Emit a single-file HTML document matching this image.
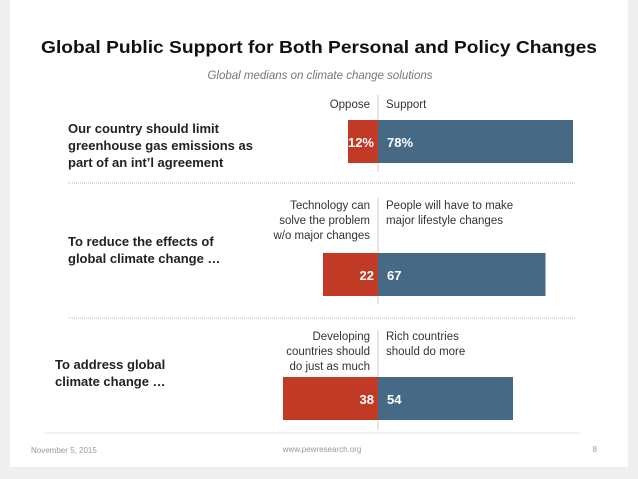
<!DOCTYPE html>
<html><head><meta charset="utf-8"><style>
body{margin:0;width:638px;height:479px;background:#efefef;overflow:hidden;font-family:"Liberation Sans",sans-serif}
#slide{position:absolute;left:10px;top:0;width:618px;height:467px;background:#fff}
</style></head><body>
<div id="slide"></div>
<svg id="chart" width="638" height="479" style="position:absolute;left:0;top:0">
<text x="319" y="53" text-anchor="middle" font-size="17.5" font-weight="bold" fill="#111" textLength="556" lengthAdjust="spacingAndGlyphs">Global Public Support for Both Personal and Policy Changes</text>
<text x="320" y="79" text-anchor="middle" font-size="11.5" font-style="italic" fill="#777">Global medians on climate change solutions</text>
<g font-size="13" font-weight="bold" fill="#222">
<text x="68" y="133">Our country should limit</text>
<text x="68" y="150">greenhouse gas emissions as</text>
<text x="68" y="167">part of an int’l agreement</text>
<text x="68" y="246">To reduce the effects of</text>
<text x="68" y="263">global climate change …</text>
<text x="55" y="369">To address global</text>
<text x="55" y="386">climate change …</text>
</g>
<g font-size="11.5" fill="#333">
<text x="370" y="108" text-anchor="end">Oppose</text>
<text x="386" y="108">Support</text>
<text x="370" y="209" text-anchor="end">Technology can</text>
<text x="370" y="224" text-anchor="end">solve the problem</text>
<text x="370" y="239" text-anchor="end">w/o major changes</text>
<text x="386" y="209">People will have to make</text>
<text x="386" y="224">major lifestyle changes</text>
<text x="370" y="340" text-anchor="end">Developing</text>
<text x="370" y="355" text-anchor="end">countries should</text>
<text x="370" y="370" text-anchor="end">do just as much</text>
<text x="386" y="340">Rich countries</text>
<text x="386" y="355">should do more</text>
</g>
<line x1="68" y1="183" x2="575" y2="183" stroke="#bbb" stroke-dasharray="1,1"/>
<line x1="68" y1="318" x2="575" y2="318" stroke="#bbb" stroke-dasharray="1,1"/>
<line x1="45" y1="433" x2="580" y2="433" stroke="#e3e3e3"/>
<g id="bars"></g>
<g font-size="8" fill="#999">
<text x="31" y="453">November 5, 2015</text>
<text x="322" y="452" text-anchor="middle">www.pewresearch.org</text>
<text x="597" y="452" text-anchor="end">8</text>
</g>
</svg>
<script>
const categories = ["limit-emissions","reduce-effects","address-change"];
const opposeValues = [12,22,38];
const supportValues = [78,67,54];
const opposeLabels = ["12%","22","38"];
const supportLabels = ["78%","67","54"];
const center = 378, scale = 2.5;
const barTops = [120,253,377], barH = 43;
const lineSpans = [[95,172],[198,304],[330,430]];
const x = v => v*scale;
const g = document.getElementById('bars');
const NS = 'http://www.w3.org/2000/svg';
function mk(tag, attrs){const e=document.createElementNS(NS,tag);for(const k in attrs)e.setAttribute(k,attrs[k]);g.appendChild(e);return e;}
categories.forEach((c,i)=>{
  const r = mk('rect',{x:center-x(opposeValues[i]),y:barTops[i],width:x(opposeValues[i]),height:barH,fill:'#c13a26'});
  
  
  const b = mk('rect',{x:center,y:barTops[i],width:x(supportValues[i]),height:barH,fill:'#466a85'});
  
  
  const t1 = mk('text',{x:center-4,y:barTops[i]+27,'text-anchor':'end','font-size':13,'font-weight':'bold',fill:'#fff'});
  t1.textContent = opposeLabels[i];
  
  
  const t2 = mk('text',{x:center+9,y:barTops[i]+27,'font-size':13,'font-weight':'bold',fill:'#fff'});
  t2.textContent = supportLabels[i];
  
  
  const l = mk('line',{x1:center,x2:center,y1:lineSpans[i][0],y2:lineSpans[i][1],stroke:'#ccc'});
  
  
  g.insertBefore(l,g.firstChild);
});
</script>
</body></html>
